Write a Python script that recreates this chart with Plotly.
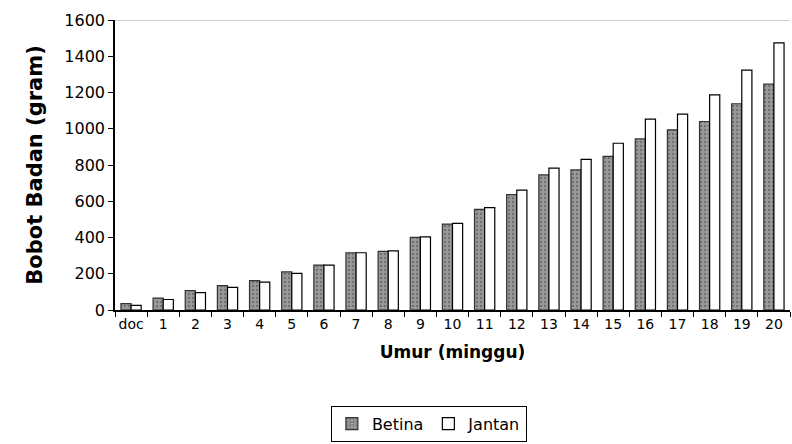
import plotly.graph_objects as go

categories = ["doc"] + [str(i) for i in range(1, 21)]
betina = [35, 66, 107, 134, 162, 210, 248, 316, 323, 401, 474, 555, 637, 745, 773, 848, 944, 994, 1040, 1138, 1246]
jantan = [26, 58, 96, 125, 154, 202, 248, 316, 326, 404, 478, 565, 661, 783, 831, 920, 1053, 1081, 1187, 1324, 1474]

font_family = "DejaVu Sans, Arial, sans-serif"

fig = go.Figure()
fig.add_trace(go.Bar(
    x=categories, y=betina, name="Betina",
    marker=dict(color="#8e8e8e",
                line=dict(color="#333333", width=1.2),
                pattern=dict(shape=".", fgcolor="#4a4a4a", bgcolor="#9a9a9a", size=4, solidity=0.3)),
))
fig.add_trace(go.Bar(
    x=categories, y=jantan, name="Jantan",
    marker=dict(color="#ffffff", line=dict(color="#000000", width=1.2)),
))

fig.update_layout(
    width=792, height=444,
    margin=dict(l=115, r=2, t=20, b=134),
    paper_bgcolor="white", plot_bgcolor="white",
    barmode="group", bargap=0.37, bargroupgap=0.0,
    font=dict(family=font_family, color="#000000", size=15),
    showlegend=True,
    legend=dict(orientation="h", x=0.465, xanchor="center", y=-0.33, yanchor="top",
                bordercolor="#000000", borderwidth=1, font=dict(size=16),
                itemwidth=30, tracegroupgap=0),
    xaxis=dict(
        type="category", tickson="boundaries", ticks="outside", ticklen=5, tickcolor="#000",
        showline=True, linecolor="#000000", linewidth=1.5, showgrid=False,
        tickfont=dict(size=14), tickangle=0,
        title=dict(text="<b>Umur (minggu)</b>", font=dict(size=17), standoff=16),
    ),
    yaxis=dict(
        range=[0, 1600], dtick=200, ticks="outside", ticklen=5, tickcolor="#000",
        showline=True, linecolor="#000000", linewidth=1.5, showgrid=False, zeroline=False,
        tickfont=dict(size=16),
        title=dict(text="<b>Bobot Badan (gram)</b>", font=dict(size=21), standoff=16),
    ),
    shapes=[dict(type="line", xref="paper", yref="y", x0=0, x1=1, y0=1600, y1=1600,
                 line=dict(color="#a0a0a0", width=1))],
)

fig.write_html("out.html")
